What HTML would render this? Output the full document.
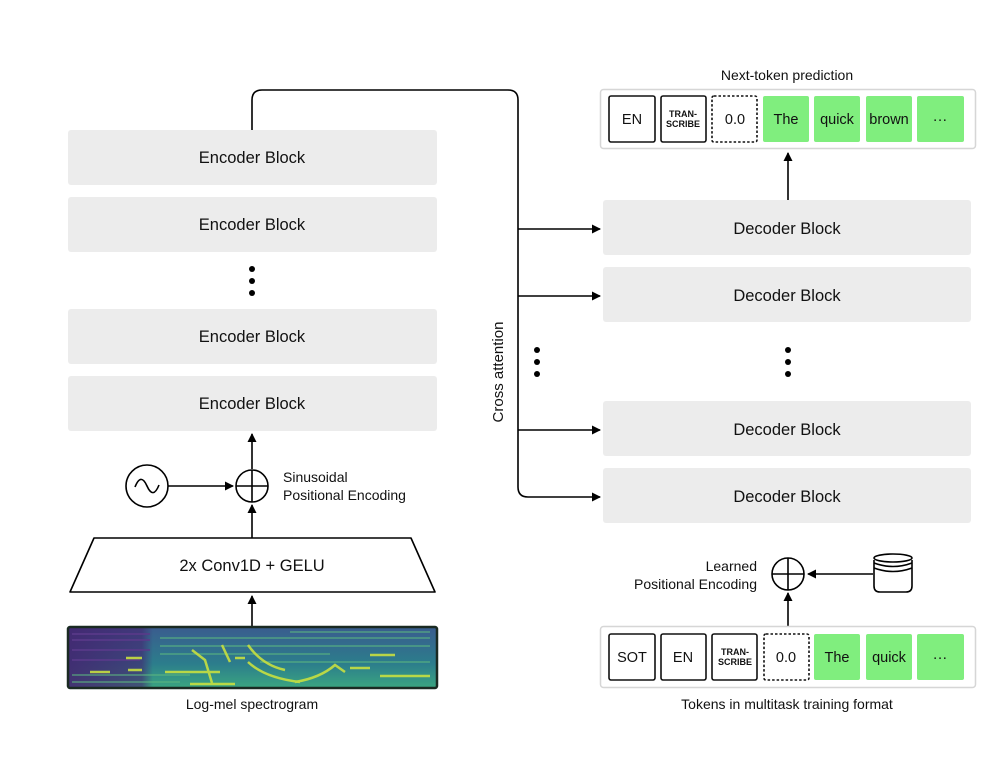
<!DOCTYPE html>
<html><head><meta charset="utf-8"><style>
html,body{margin:0;padding:0;background:#fff;}
svg text{font-family:"Liberation Sans",sans-serif;fill:#111;}
</style></head><body>
<svg width="1002" height="767" viewBox="0 0 1002 767" xmlns="http://www.w3.org/2000/svg">
<defs>
<marker id="a" markerWidth="10" markerHeight="10" refX="8" refY="5" orient="auto" markerUnits="userSpaceOnUse">
<path d="M0,0.5 L9,5 L0,9.5 z" fill="#000"/></marker>
<linearGradient id="sv" x1="0" y1="0" x2="0" y2="1">
<stop offset="0" stop-color="#3a5c8e"/><stop offset="0.6" stop-color="#2c7d8c"/><stop offset="1" stop-color="#3aa580"/></linearGradient>
<linearGradient id="sp" x1="0" y1="0" x2="1" y2="0">
<stop offset="0" stop-color="#44206e" stop-opacity="0.85"/><stop offset="0.2" stop-color="#44206e" stop-opacity="0.6"/><stop offset="0.23" stop-color="#44206e" stop-opacity="0"/></linearGradient>
</defs>
<g fill="#ececec">
<rect x="68" y="130" width="369" height="55" rx="3"/>
<rect x="68" y="197" width="369" height="55" rx="3"/>
<rect x="68" y="309" width="369" height="55" rx="3"/>
<rect x="68" y="376" width="369" height="55" rx="3"/>
<rect x="603" y="200" width="368" height="55" rx="3"/>
<rect x="603" y="267" width="368" height="55" rx="3"/>
<rect x="603" y="401" width="368" height="55" rx="3"/>
<rect x="603" y="468" width="368" height="55" rx="3"/>
</g>
<g font-size="16.5" text-anchor="middle">
<text x="252" y="163">Encoder Block</text>
<text x="252" y="230">Encoder Block</text>
<text x="252" y="342">Encoder Block</text>
<text x="252" y="409">Encoder Block</text>
<text x="787" y="234">Decoder Block</text>
<text x="787" y="301">Decoder Block</text>
<text x="787" y="435">Decoder Block</text>
<text x="787" y="502">Decoder Block</text>
</g>
<g fill="#000">
<circle cx="252" cy="269" r="3"/><circle cx="252" cy="281" r="3"/><circle cx="252" cy="293" r="3"/>
<circle cx="537" cy="350" r="3"/><circle cx="537" cy="362" r="3"/><circle cx="537" cy="374" r="3"/>
<circle cx="788" cy="350" r="3"/><circle cx="788" cy="362" r="3"/><circle cx="788" cy="374" r="3"/>
</g>
<g stroke="#000" stroke-width="1.6" fill="none">
<path d="M252,130 V100 Q252,90 262,90 H508 Q518,90 518,100 V487 Q518,497 528,497 H600" marker-end="url(#a)"/>
<path d="M518,229 H600" marker-end="url(#a)"/>
<path d="M518,296 H600" marker-end="url(#a)"/>
<path d="M518,430 H600" marker-end="url(#a)"/>
<path d="M252,469 V434" marker-end="url(#a)"/>
<path d="M168,486 H233" marker-end="url(#a)"/>
<path d="M252,538 V505" marker-end="url(#a)"/>
<path d="M252,626 V596" marker-end="url(#a)"/>
<circle cx="252" cy="486" r="16"/><path d="M236,486 H268 M252,470 V502"/>
<circle cx="147" cy="486" r="21"/>
<path d="M135,487 C139,477 143,477 147,486 C151,495 155,495 159,485"/>
<path d="M94,538 H411 L435,592 H70 Z" stroke-linejoin="round"/>
<path d="M788,200 V153" marker-end="url(#a)"/>
<path d="M788,627 V593" marker-end="url(#a)"/>
<circle cx="788" cy="574" r="16"/><path d="M772,574 H804 M788,558 V590"/>
<path d="M873,574 H808" marker-end="url(#a)"/>
<path d="M874,560 V586 Q874,592 880,592 H906 Q912,592 912,586 V560"/>
<ellipse cx="893" cy="558" rx="19" ry="4"/>
<path d="M874,563 Q893,570 912,563 M874,568 Q893,575 912,568"/>
</g>
<g font-size="14">
<text x="283" y="482">Sinusoidal</text>
<text x="283" y="500">Positional Encoding</text>
<text x="757" y="571" text-anchor="end">Learned</text>
<text x="757" y="589" text-anchor="end">Positional Encoding</text>
<text x="252" y="709" text-anchor="middle">Log-mel spectrogram</text>
<text x="787" y="709" text-anchor="middle">Tokens in multitask training format</text>
<text x="787" y="80" text-anchor="middle">Next-token prediction</text>
</g>
<text x="252" y="571" font-size="16.5" text-anchor="middle">2x Conv1D + GELU</text>
<text transform="translate(503,372) rotate(-90)" font-size="15" text-anchor="middle">Cross attention</text>
<!-- spectrogram -->
<rect x="68" y="627" width="369" height="61" fill="url(#sv)"/>
<rect x="68" y="627" width="369" height="61" fill="url(#sp)"/>
<g stroke="#5a3a8a" stroke-width="2" opacity="0.8">
<path d="M72,640 H150 M72,650 H150 M72,660 H140 M72,634 H150"/>
</g>
<g stroke="#5cb880" stroke-width="1.5" opacity="0.7">
<path d="M160,638 H430 M160,646 H430 M160,654 H330 M260,662 H430 M72,675 H190 M72,682 H180 M290,632 H430"/>
</g>
<g stroke="#c8e040" stroke-width="2.5" fill="none" opacity="0.9">
<path d="M126,658 H142 M90,672 H110 M128,670 H142 M165,672 H220"/>
<path d="M192,650 L205,660 L212,683 M222,645 L230,662 M235,658 H245 M248,645 Q262,665 285,670 M248,662 Q265,678 300,682"/>
<path d="M295,682 Q320,678 335,665 L345,672 M350,668 H370 M380,676 H430 M370,655 H395"/>
<path d="M190,684 H235"/>
</g>
<rect x="68" y="627" width="369" height="61" fill="none" stroke="#1a2a22" stroke-width="2.5" rx="2"/>
<!-- output tokens -->
<rect x="600.5" y="89.5" width="375" height="59" fill="#fff" stroke="#d6d6d6" stroke-width="1.5" rx="3"/>
<rect x="600.5" y="626.5" width="375" height="61" fill="#fff" stroke="#d6d6d6" stroke-width="1.5" rx="3"/>
<g stroke="#111" stroke-width="1.6" fill="#fff">
<rect x="609" y="96" width="46" height="46" rx="2"/>
<rect x="661" y="96" width="45" height="46" rx="2"/>
<rect x="712" y="96" width="45" height="46" rx="2" stroke-dasharray="2.5,2"/>
<rect x="609" y="634" width="46" height="46" rx="2"/>
<rect x="661" y="634" width="45" height="46" rx="2"/>
<rect x="712" y="634" width="45" height="46" rx="2"/>
<rect x="764" y="634" width="45" height="46" rx="2" stroke-dasharray="2.5,2"/>
</g>
<g fill="#80ee7e">
<rect x="763" y="96" width="46" height="46" rx="2"/>
<rect x="814" y="96" width="46" height="46" rx="2"/>
<rect x="866" y="96" width="46" height="46" rx="2"/>
<rect x="917" y="96" width="47" height="46" rx="2"/>
<rect x="814" y="634" width="46" height="46" rx="2"/>
<rect x="866" y="634" width="46" height="46" rx="2"/>
<rect x="917" y="634" width="47" height="46" rx="2"/>
</g>
<g font-size="14.5" text-anchor="middle">
<text x="632" y="124">EN</text>
<text x="735" y="124">0.0</text>
<text x="786" y="124">The</text>
<text x="837" y="124">quick</text>
<text x="889" y="124">brown</text>
<text x="940" y="124">···</text>
<text x="632" y="662">SOT</text>
<text x="683" y="662">EN</text>
<text x="786" y="662">0.0</text>
<text x="837" y="662">The</text>
<text x="889" y="662">quick</text>
<text x="940" y="662">···</text>
</g>
<g font-size="9" text-anchor="middle" font-weight="bold">
<text x="683" y="117">TRAN-</text><text x="683" y="127">SCRIBE</text>
<text x="735" y="655">TRAN-</text><text x="735" y="665">SCRIBE</text>
</g>
</svg>
</body></html>
